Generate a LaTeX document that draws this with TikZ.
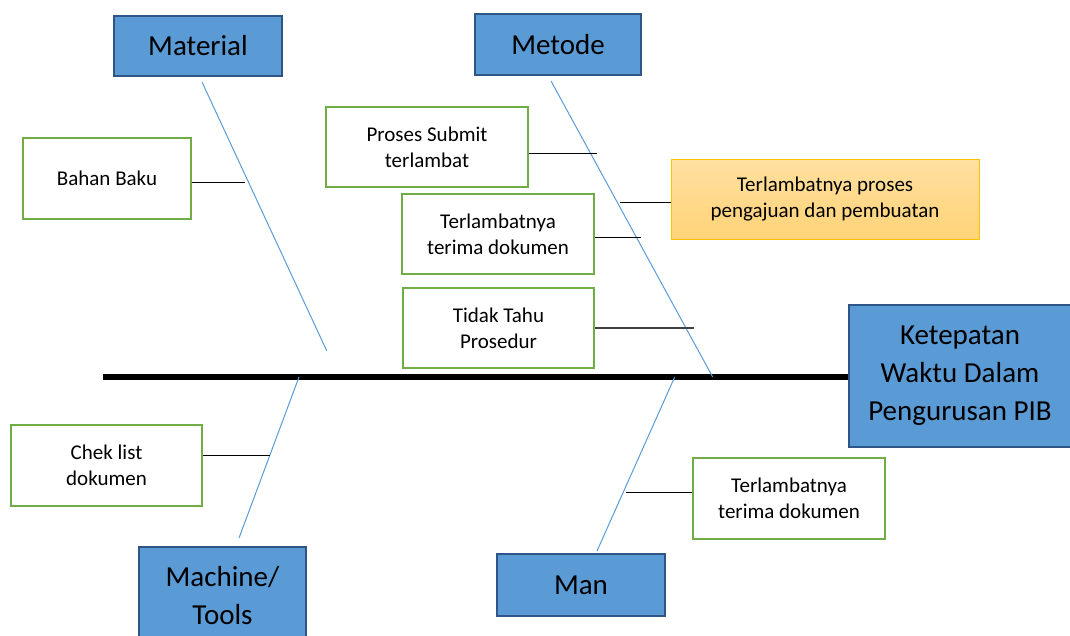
\documentclass[tikz,border=0pt]{standalone}
\usepackage{fontspec}
\setmainfont{Carlito}
\usepackage{tikz}
\usepackage{xcolor}
\usetikzlibrary{shapes.geometric, arrows}
\definecolor{catfill}{HTML}{5B9BD5}
\definecolor{catborder}{HTML}{2F5587}
\definecolor{causegreen}{HTML}{70AD47}
\definecolor{effborder}{HTML}{FFC000}
\definecolor{efftop}{HTML}{FFE0A0}
\definecolor{effbottom}{HTML}{FFD377}
\newcommand{\smalltxt}{\fontsize{21}{26}\selectfont}
\newcommand{\bigtxt}{\fontsize{29}{38}\selectfont}
\tikzstyle{head} = [rectangle, minimum width=222pt, minimum height=142pt, align=center, inner sep=0pt, draw=catborder, fill=catfill, line width=2pt, font=\bigtxt]
\tikzstyle{cat} = [rectangle, minimum width=167pt, minimum height=61pt, align=center, inner sep=0pt, draw=catborder, fill=catfill, line width=2pt, font=\bigtxt]
\tikzstyle{cause} = [rectangle, minimum width=191pt, minimum height=80pt, align=center, inner sep=0pt, draw=causegreen, fill=white, line width=2.5pt, font=\smalltxt]
\tikzstyle{effect} = [rectangle, minimum width=308pt, minimum height=80pt, align=center, inner sep=0pt, draw=effborder, top color=efftop, bottom color=effbottom, line width=1pt, font=\smalltxt]
\tikzstyle{spine} = [black, line width=6pt]
\tikzstyle{bone} = [catfill, line width=1pt]
\tikzstyle{twig} = [black, line width=1pt]

\begin{document}
\begin{tikzpicture}[x=1pt, y=-1pt]
		\useasboundingbox (0,0) rectangle (1070,635);
		% kepala dan kategori
		\node (head) [head] at (960,376) {Ketepatan\\Waktu Dalam\\Pengurusan PIB};
		\node (material) [cat, minimum width=168pt, minimum height=60pt] at (198,46) {Material};
		\node (metode) [cat, minimum width=166pt] at (558,44.5) {Metode};
		\node (machine) [cat, minimum height=98pt] at (222.5,596) {Machine/\\Tools};
		\node (man) [cat, minimum width=168pt, minimum height=62pt] at (581,585) {Man};
		% penyebab
		\node (bahan) [cause, minimum width=168pt, minimum height=81pt] at (107,178.5) {Bahan Baku};
		\node (submit) [cause, minimum width=202pt] at (427,147) {Proses Submit\\terlambat};
		\node (terima) [cause, minimum width=192pt] at (498,234) {Terlambatnya\\terima dokumen};
		\node (prosedur) [cause] at (498.5,328) {Tidak Tahu\\Prosedur};
		\node (proses) [effect] at (825,199) {Terlambatnya proses\\pengajuan dan pembuatan};
		\node (cheklist) [cause, minimum height=81pt] at (106.5,465.5) {Chek list\\dokumen};
		\node (terimaman) [cause, minimum width=192pt, minimum height=81pt] at (789,498.5) {Terlambatnya\\terima dokumen};
		% titik ujung tulang
		\coordinate (spine0) at (103,377);
		\coordinate (matA) at (202,82);
		\coordinate (matB) at (326.7,350.7);
		\coordinate (metA) at (551,81);
		\coordinate (metB) at (712.7,377);
		\coordinate (macA) at (239,538);
		\coordinate (macB) at (299,377);
		\coordinate (manA) at (597,551);
		\coordinate (manB) at (674.7,377);
		\coordinate (tw1) at (245,182.7);
		\coordinate (tw2) at (596.7,153);
		\coordinate (tw3) at (641,237);
		\coordinate (tw4) at (620,202.7);
		\coordinate (tw5) at (694,328);
		\coordinate (tw6) at (270,455);
		\coordinate (tw7) at (626,492);
		
		\draw [spine] (spine0) -- (spine0 -| head.west);
		\draw [bone] (matA) -- (matB);
		\draw [bone] (metA) -- (metB);
		\draw [bone] (macA) -- (macB);
		\draw [bone] (manA) -- (manB);
		\draw [twig] (bahan.east |- tw1) -- (tw1);
		\draw [twig] (submit.east |- tw2) -- (tw2);
		\draw [twig] (terima.east |- tw3) -- (tw3);
		\draw [twig] (proses.west |- tw4) -- (tw4);
		\draw [twig, black!75, line width=1.5pt] (prosedur.east |- tw5) -- (tw5);
		\draw [twig] (cheklist.east |- tw6) -- (tw6);
		\draw [twig] (terimaman.west |- tw7) -- (tw7);
	\end{tikzpicture}
\end{document}
